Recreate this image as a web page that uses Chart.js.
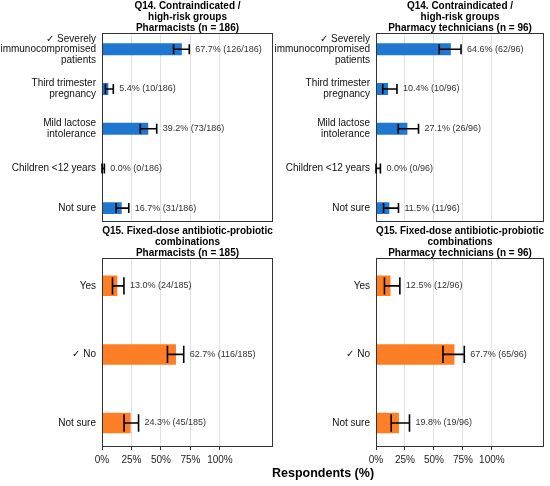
<!DOCTYPE html>
<html>
<head>
<meta charset="utf-8">
<title>Q14 / Q15 respondents</title>
<script src="https://cdn.jsdelivr.net/npm/chart.js@4.4.1/dist/chart.umd.min.js"></script>
<style>
    body { margin: 0; background: #fff; }
    #wrap { position: relative; width: 550px; height: 486px; overflow: hidden; }
    #wrap canvas { position: absolute; }
    #xtitle {
        position: absolute; left: 223px; top: 466px; width: 200px;
        text-align: center; line-height: 14px;
        font: bold 12.5px "Liberation Sans", Arial, sans-serif; color: #000;
    }
</style>
</head>
<body>
<div id="wrap">
    <canvas id="q14Pharm" width="275" height="225" style="left:0;top:0"></canvas>
    <canvas id="q14Tech" width="275" height="225" style="left:275px;top:0"></canvas>
    <canvas id="q15Pharm" width="275" height="261" style="left:0;top:225px"></canvas>
    <canvas id="q15Tech" width="275" height="261" style="left:275px;top:225px"></canvas>
    <div id="xtitle">Respondents (%)</div>
</div>
<script>
// categories
const q14Labels = [['\u2713 Severely', 'immunocompromised', 'patients'], ['Third trimester', 'pregnancy'], ['Mild lactose', 'intolerance'], 'Children <12 years', 'Not sure'];
const q15Labels = ['Yes', '\u2713 No', 'Not sure'];

// Q14 pharmacists (n = 186)
const q14PharmN = 186;
const q14PharmPct = [67.7, 5.4, 39.2, 0.0, 16.7];
const q14PharmCount = [126, 10, 73, 0, 31];
const q14PharmLow = [60.7, 2.9, 32.5, 0.0, 12.0];
const q14PharmHigh = [74.0, 9.6, 46.4, 2.0, 22.7];

// Q14 pharmacy technicians (n = 96)
const q14TechN = 96;
const q14TechPct = [64.6, 10.4, 27.1, 0.0, 11.5];
const q14TechCount = [62, 10, 26, 0, 11];
const q14TechLow = [54.6, 5.8, 19.2, 0.0, 6.5];
const q14TechHigh = [73.4, 18.1, 36.7, 3.8, 19.4];

// Q15 pharmacists (n = 185)
const q15PharmN = 185;
const q15PharmPct = [13.0, 62.7, 24.3];
const q15PharmCount = [24, 116, 45];
const q15PharmLow = [8.9, 55.5, 18.7];
const q15PharmHigh = [18.6, 69.3, 31.0];

// Q15 pharmacy technicians (n = 96)
const q15TechN = 96;
const q15TechPct = [12.5, 67.7, 19.8];
const q15TechCount = [12, 65, 19];
const q15TechLow = [7.3, 57.8, 13.1];
const q15TechHigh = [20.6, 76.2, 28.9];

const xTicks = [0, 25, 50, 75, 100];
const xMax = 145;

const FONT = '"Liberation Sans", Arial, "DejaVu Sans", sans-serif';
const BLUE = '#1f77d0';
const ORANGE = '#fd7e24';

// frame, error bars and value labels
const errBarPlugin = {
    id: 'errbars',
    afterDatasetsDraw(chart, args, opts) {
        const ctx = chart.ctx;
        const a = chart.chartArea;
        const xs = chart.scales.x;
        const ys = chart.scales.y;
        const bar = chart.getDatasetMeta(0).data[0];
        const half = bar ? bar.height * 0.42 : 5;
        ctx.save();
        ctx.strokeStyle = '#333';
        ctx.lineWidth = 1;
        ctx.strokeRect(Math.round(a.left) + 0.5, Math.round(a.top) + 0.5,
            Math.round(a.right - a.left) - 1, Math.round(a.bottom - a.top) - 1);

        ctx.strokeStyle = '#000';
        ctx.lineWidth = 1.6;
        ctx.fillStyle = '#333';
        ctx.font = '9px ' + FONT;
        ctx.textBaseline = 'middle';
        ctx.textAlign = 'left';
        opts.low.forEach(function (lo, i) {
            const y = ys.getPixelForValue(i);
            const x1 = xs.getPixelForValue(lo);
            const x2 = xs.getPixelForValue(opts.high[i]);
            ctx.beginPath();
            ctx.moveTo(x1, y); ctx.lineTo(x2, y);
            ctx.moveTo(x1, y - half); ctx.lineTo(x1, y + half);
            ctx.moveTo(x2, y - half); ctx.lineTo(x2, y + half);
            ctx.stroke();
            const txt = opts.pct[i].toFixed(1) + '% (' + opts.count[i] + '/' + opts.n + ')';
            ctx.fillText(txt, x2 + 6, y);
        });
        ctx.restore();
    }
};

function makePanel(id, title, labels, pct, count, low, high, n, color, yWidth, rightPad, bottomH, showTicks) {
    const ctx = document.getElementById(id).getContext('2d');
    return new Chart(ctx, {
        type: 'bar',
        data: {
            datasets: [{
                data: pct.map((v, i) => ({ x: v, y: i })),
                backgroundColor: color,
                borderWidth: 0,
                barPercentage: 0.3,
                categoryPercentage: 1.0
            }]
        },
        options: {
            indexAxis: 'y',
            responsive: false,
            animation: false,
            layout: { padding: { left: 0, right: rightPad, top: 0, bottom: 0 } },
            scales: {
                x: {
                    type: 'linear',
                    min: 0,
                    max: xMax,
                    afterBuildTicks: s => { s.ticks = xTicks.map(v => ({ value: v })); },
                    afterFit: s => { s.height = bottomH; s.paddingLeft = 0; s.paddingRight = 0; },
                    border: { display: false },
                    grid: {
                        color: c => (c.tick && c.tick.value === 0) ? 'rgba(0,0,0,0)' : '#e2e2e2',
                        lineWidth: 1,
                        drawTicks: showTicks,
                        tickLength: 3,
                        tickColor: '#333'
                    },
                    ticks: {
                        display: showTicks,
                        callback: v => v + '%',
                        color: '#222',
                        padding: 4,
                        maxRotation: 0,
                        font: { family: FONT, size: 10 }
                    }
                },
                y: {
                    type: 'linear',
                    reverse: true,
                    offset: false,
                    min: -0.4,
                    max: labels.length - 0.65,
                    afterBuildTicks: s => { s.ticks = labels.map((_, i) => ({ value: i })); },
                    afterFit: s => { s.width = yWidth; s.paddingTop = 0; s.paddingBottom = 0; },
                    border: { display: false },
                    grid: { display: false, drawTicks: false, offset: false },
                    ticks: {
                        callback: v => labels[v],
                        color: '#111',
                        padding: 6,
                        autoSkip: false,
                        font: { family: FONT, size: 10, lineHeight: 1.05 }
                    }
                }
            },
            plugins: {
                legend: { display: false },
                tooltip: { enabled: false },
                title: {
                    display: true,
                    text: title,
                    fullSize: false,
                    color: '#000',
                    font: { family: FONT, size: 10, weight: 'bold', lineHeight: 1.08 },
                    padding: { top: 1, bottom: 0 }
                },
                errbars: { pct: pct, count: count, low: low, high: high, n: n }
            }
        },
        plugins: [errBarPlugin]
    });
}

makePanel('q14Pharm', ['Q14. Contraindicated /', 'high-risk groups', 'Pharmacists (n = 186)'],
    q14Labels, q14PharmPct, q14PharmCount, q14PharmLow, q14PharmHigh, q14PharmN, BLUE, 102, 2, 3, false);
makePanel('q14Tech', ['Q14. Contraindicated /', 'high-risk groups', 'Pharmacy technicians (n = 96)'],
    q14Labels, q14TechPct, q14TechCount, q14TechLow, q14TechHigh, q14TechN, BLUE, 101, 6, 3, false);
makePanel('q15Pharm', ['Q15. Fixed-dose antibiotic-probiotic', 'combinations', 'Pharmacists (n = 185)'],
    q15Labels, q15PharmPct, q15PharmCount, q15PharmLow, q15PharmHigh, q15PharmN, ORANGE, 102, 2, 39, true);
makePanel('q15Tech', ['Q15. Fixed-dose antibiotic-probiotic', 'combinations', 'Pharmacy technicians (n = 96)'],
    q15Labels, q15TechPct, q15TechCount, q15TechLow, q15TechHigh, q15TechN, ORANGE, 101, 6, 39, true);
</script>
</body>
</html>
